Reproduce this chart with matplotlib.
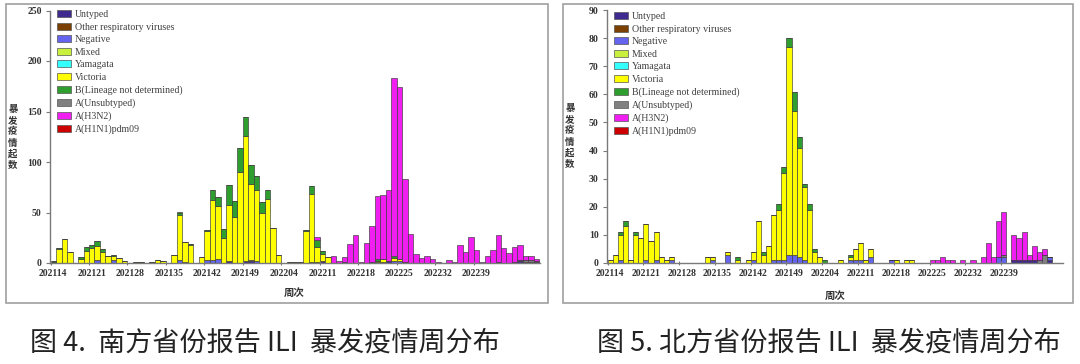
import matplotlib
matplotlib.use('Agg')
import matplotlib.pyplot as plt
from matplotlib.patches import Rectangle, Patch
import numpy as np

plt.rcParams['font.family'] = ['Liberation Serif', 'Noto Sans CJK SC']

# ---------------- data ----------------
TICK_LABELS = ['202114', '202121', '202128', '202135', '202142', '202149',
               '202204', '202211', '202218', '202225', '202232', '202239']
N_WEEKS = 89  # 202114 ... 202250

SERIES_NAMES = ['Untyped', 'Other respiratory viruses', 'Negative', 'Mixed', 'Yamagata',
                'Victoria', 'B(Lineage not determined)', 'A(Unsubtyped)', 'A(H3N2)', 'A(H1N1)pdm09']
SERIES_COLORS = ['#3f2a8f', '#7b3f00', '#6464ee', '#c8f03c', '#33ffff',
                 '#ffff00', '#2e9e2e', '#808080', '#f01ef0', '#cc0000']

# South
south_victoria = [0, 14, 24, 11, 0, 4, 12, 15, 14, 11,
                  7, 4, 5, 2, 0, 1, 1, 0, 1, 3,
                  2, 0, 8, 45, 20, 18, 0, 6, 29, 59,
                  52, 25, 55, 46, 90, 124, 75, 70, 50, 63,
                  35, 8, 0, 1, 1, 1, 32, 67, 15, 7,
                  6, 0, 0, 0, 0, 0, 0, 0, 0, 1,
                  3, 0, 3, 2, 0, 0, 0, 0, 0, 0,
                  0, 0, 0, 0, 0, 0, 0, 0, 0, 0,
                  0, 0, 0, 0, 0, 0, 0, 0, 0]
south_b_nd = [1, 1, 0, 0, 0, 2, 4, 3, 5, 3,
              0, 1, 0, 0, 0, 0, 0, 0, 0, 0,
              0, 0, 0, 2, 0, 1, 0, 0, 1, 10,
              9, 9, 20, 15, 24, 19, 19, 14, 10, 9,
              0, 0, 0, 0, 0, 0, 1, 8, 7, 3,
              0, 0, 0, 0, 0, 0, 0, 0, 0, 2,
              0, 0, 2, 0, 0, 0, 0, 0, 0, 0,
              0, 0, 0, 0, 0, 0, 0, 0, 0, 0,
              0, 0, 0, 0, 0, 0, 0, 0, 0]
south_negative = [0, 0, 0, 0, 0, 0, 0, 0, 3, 0,
                  0, 3, 0, 0, 0, 0, 0, 0, 0, 0,
                  0, 0, 0, 3, 1, 0, 0, 0, 3, 3,
                  4, 0, 0, 0, 0, 0, 1, 2, 0, 0,
                  0, 0, 0, 0, 0, 0, 0, 1, 0, 0,
                  0, 0, 0, 0, 0, 0, 0, 0, 0, 1,
                  1, 0, 2, 2, 0, 0, 0, 0, 0, 0,
                  0, 0, 0, 0, 0, 0, 0, 0, 0, 0,
                  0, 0, 0, 0, 0, 0, 0, 0, 0]
south_untyped = [1, 0, 0, 0, 0, 0, 0, 0, 0, 0,
                 0, 0, 0, 0, 0, 0, 0, 0, 0, 0,
                 0, 0, 0, 0, 0, 0, 0, 0, 0, 0,
                 0, 0, 2, 0, 0, 2, 2, 0, 0, 0,
                 0, 0, 0, 0, 0, 0, 0, 0, 1, 2,
                 0, 0, 0, 1, 0, 0, 0, 0, 1, 0,
                 0, 2, 0, 0, 1, 0, 0, 0, 0, 0,
                 0, 0, 0, 0, 0, 0, 0, 0, 0, 0,
                 0, 1, 0, 0, 1, 2, 1, 1, 1]
south_unsubtyped = [0] * 80 + [0, 0, 0, 0, 0, 1, 2, 2, 1]
south_h3n2 = [0, 0, 0, 0, 0, 0, 0, 0, 0, 0,
              0, 0, 0, 0, 0, 0, 0, 0, 0, 0,
              0, 0, 0, 0, 0, 0, 0, 0, 0, 0,
              0, 0, 0, 0, 0, 0, 0, 0, 0, 0,
              0, 0, 0, 0, 0, 0, 0, 0, 3, 0,
              0, 7, 2, 5, 19, 28, 1, 20, 36, 62,
              63, 70, 176, 170, 82, 29, 9, 5, 7, 4,
              1, 0, 3, 1, 18, 11, 26, 13, 1, 7,
              13, 27, 15, 10, 15, 15, 4, 4, 2]

# North
north_victoria = [1, 3, 9, 13, 1, 10, 9, 13, 8, 10,
                  2, 1, 1, 0, 0, 0, 0, 0, 0, 2,
                  1, 0, 0, 1, 0, 1, 0, 1, 3, 15,
                  3, 6, 16, 18, 31, 74, 51, 39, 26, 19,
                  4, 2, 0, 0, 0, 1, 0, 1, 4, 6,
                  1, 3, 0, 0, 0, 0, 1, 0, 1, 1,
                  0, 0, 0, 0, 0, 0, 0, 0, 0, 0,
                  0, 0, 0, 0, 0, 0, 0, 0, 0, 0,
                  0, 0, 0, 0, 0, 0, 0, 0, 0]
north_b_nd = [0, 0, 1, 2, 0, 1, 0, 0, 0, 0,
              0, 0, 0, 0, 0, 0, 0, 0, 0, 0,
              0, 0, 0, 0, 0, 1, 0, 0, 0, 0,
              1, 0, 0, 2, 2, 3, 7, 4, 1, 2,
              1, 0, 1, 0, 0, 0, 0, 1, 0, 0,
              0, 0, 0, 0, 0, 0, 0, 0, 0, 0,
              0, 0, 0, 0, 0, 0, 0, 0, 0, 0,
              0, 0, 0, 0, 0, 0, 0, 0, 0, 0,
              0, 0, 0, 0, 0, 0, 0, 0, 0]
north_negative = [0, 0, 1, 0, 0, 0, 0, 1, 0, 1,
                  0, 0, 1, 0, 0, 0, 0, 0, 0, 0,
                  1, 0, 0, 3, 0, 0, 0, 0, 1, 0,
                  0, 0, 1, 1, 1, 3, 3, 2, 1, 0,
                  0, 0, 0, 0, 0, 0, 0, 1, 1, 1,
                  0, 2, 0, 0, 0, 1, 0, 0, 0, 0,
                  0, 0, 0, 0, 0, 0, 0, 0, 0, 0,
                  0, 0, 0, 0, 0, 0, 2, 2, 0, 0,
                  0, 0, 0, 0, 0, 0, 1, 0, 0]
north_untyped = [0] * 70 + [0, 0, 0, 0, 0, 0, 0, 0, 0, 1,
                            1, 1, 1, 1, 0, 0, 1, 0, 0]
north_unsubtyped = [0] * 70 + [0, 0, 0, 0, 0, 0, 0, 1, 0, 0,
                               0, 0, 0, 0, 1, 3, 0, 0, 0]
north_h3n2 = [0] * 60 + [0, 0, 0, 1, 1, 2, 1, 1, 0, 1,
                         0, 1, 0, 2, 7, 2, 13, 15, 0, 9,
                         8, 10, 2, 5, 3, 2, 0, 0, 0]

ZERO = [0] * N_WEEKS

south = {'Untyped': south_untyped, 'Other respiratory viruses': ZERO, 'Negative': south_negative,
         'A(Unsubtyped)': south_unsubtyped, 'A(H1N1)pdm09': ZERO, 'Mixed': ZERO, 'Yamagata': ZERO,
         'Victoria': south_victoria, 'B(Lineage not determined)': south_b_nd, 'A(H3N2)': south_h3n2}
north = {'Untyped': north_untyped, 'Other respiratory viruses': ZERO, 'Negative': north_negative,
         'A(Unsubtyped)': north_unsubtyped, 'A(H1N1)pdm09': ZERO, 'Mixed': ZERO, 'Yamagata': ZERO,
         'Victoria': north_victoria, 'B(Lineage not determined)': north_b_nd, 'A(H3N2)': north_h3n2}
STACK_ORDER = ['Untyped', 'Other respiratory viruses', 'Negative', 'A(Unsubtyped)', 'A(H1N1)pdm09',
               'Mixed', 'Yamagata', 'Victoria', 'B(Lineage not determined)', 'A(H3N2)']
COLOR = dict(zip(SERIES_NAMES, SERIES_COLORS))

# ---------------- figure ----------------
W, H = 1080, 364
fig = plt.figure(figsize=(W / 100, H / 100), dpi=100)
fig.patch.set_facecolor('white')

for (x0, y0, x1, y1) in [(6, 4, 548, 303), (563, 4, 1073, 303)]:
    fig.patches.append(Rectangle((x0 / W, 1 - y1 / H), (x1 - x0) / W, (y1 - y0) / H,
                                 transform=fig.transFigure, fill=False,
                                 edgecolor='#a0a0a0', lw=1.2))

TXT = '#333333'
SP = '#7a7a7a'


def draw_panel(rect, data, ymax, ystep, legend_xy, ylabel_xy, xlabel_xy):
    ax = fig.add_axes(rect)
    x = np.arange(N_WEEKS)
    bottom = np.zeros(N_WEEKS)
    for name in STACK_ORDER:
        vals = np.array(data[name], dtype=float)
        if vals.sum() > 0 or name in ('Victoria',):
            ax.bar(x, vals, bottom=bottom, width=1.0, color=COLOR[name],
                   edgecolor='#3a3a3a', linewidth=0.45)
        bottom += vals
    ax.set_xlim(-0.6, N_WEEKS - 0.4)
    ax.set_ylim(0, ymax)
    ax.set_yticks(np.arange(0, ymax + 1, ystep))
    ax.set_xticks(np.arange(0, N_WEEKS, 7)[:len(TICK_LABELS)])
    ax.set_xticklabels(TICK_LABELS)
    ax.set_xticks(np.arange(0, N_WEEKS, 7)[:len(TICK_LABELS)] - 0.5, minor=True)
    ax.tick_params(axis='x', which='major', length=0, pad=4, labelsize=7, colors=TXT)
    ax.tick_params(axis='x', which='minor', length=3, direction='inout', color=SP, width=0.8)
    ax.tick_params(axis='y', length=3, direction='out', color=SP, width=0.8,
                   labelsize=7, colors=TXT, pad=3)
    for s in ('top', 'right'):
        ax.spines[s].set_visible(False)
    for s in ('left', 'bottom'):
        ax.spines[s].set_color(SP)
        ax.spines[s].set_linewidth(1.0)
    for lab in ax.get_xticklabels() + ax.get_yticklabels():
        lab.set_fontweight('bold')

    handles = [Patch(facecolor=COLOR[n], edgecolor='#555555', linewidth=0.5) for n in SERIES_NAMES]
    leg = ax.legend(handles, SERIES_NAMES, loc='upper left',
                    bbox_to_anchor=(legend_xy[0] / W, 1 - legend_xy[1] / H),
                    bbox_transform=fig.transFigure, frameon=False, fontsize=7.1,
                    handlelength=1.4, handleheight=0.7, labelspacing=0.36,
                    handletextpad=0.4, borderaxespad=0, borderpad=0)
    for t in leg.get_texts():
        t.set_color('#404040')

    fig.text(ylabel_xy[0] / W, 1 - ylabel_xy[1] / H, '\n'.join('暴发疫情起数'),
             family=['Noto Sans CJK SC'], fontsize=6.8, fontweight='bold', color=TXT,
             ha='center', va='center', linespacing=1.15)
    fig.text(xlabel_xy[0] / W, 1 - xlabel_xy[1] / H, '周次', family=['Noto Sans CJK SC'],
             fontsize=7.5, fontweight='bold', color=TXT, ha='center', va='center')
    return ax


draw_panel([50 / W, 1 - 263 / H, 490 / W, 252.5 / H], south, 250, 50,
           (57, 10), (13, 137), (294, 293))
draw_panel([607 / W, 1 - 263 / H, 456 / W, 253 / H], north, 90, 10,
           (614, 12), (570, 136), (835, 296))

cap_kw = dict(family=['Noto Sans CJK SC'], fontsize=19.5, color='#222222', ha='center', va='center')
fig.text(265 / W, 1 - 343 / H, '图 4.  南方省份报告 ILI  暴发疫情周分布', **cap_kw)
fig.text(829 / W, 1 - 343 / H, '图 5. 北方省份报告 ILI  暴发疫情周分布', **cap_kw)

fig.savefig('out.png', dpi=100, facecolor='white')
